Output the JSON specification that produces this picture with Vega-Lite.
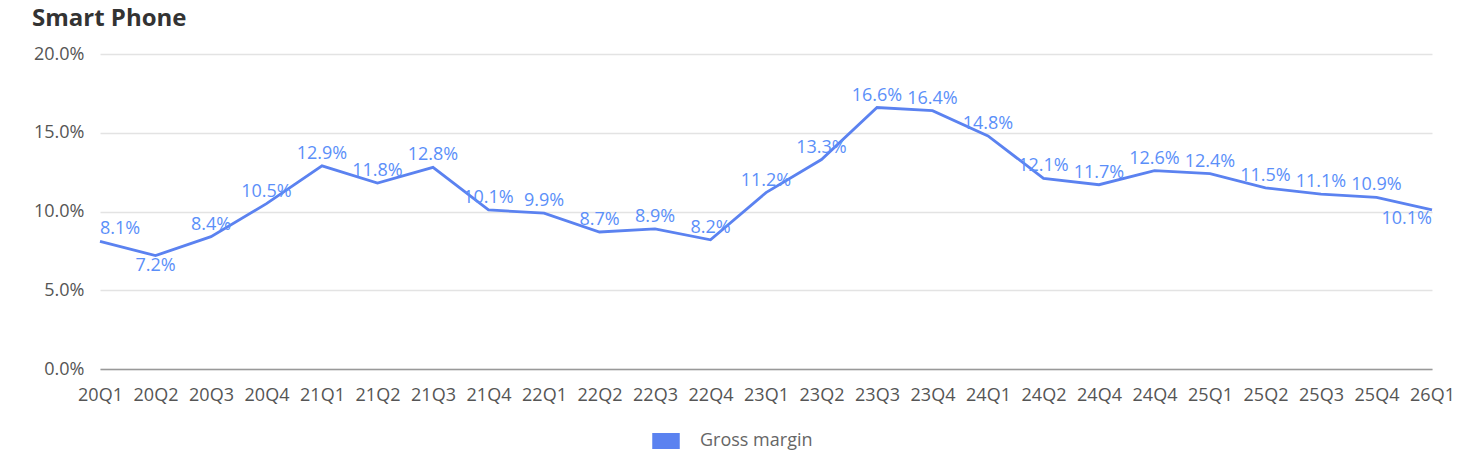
{
  "$schema": "https://vega.github.io/schema/vega-lite/v6.json",
  "width": 1332,
  "height": 315,
  "autosize": {"type": "none"},
  "padding": {"left": 100, "top": 54, "right": 31, "bottom": 96},
  "background": "#ffffff",
  "title": {"text": "Smart Phone", "anchor": "start", "frame": "group", "dx": -68, "fontSize": 24, "fontWeight": "bold", "color": "#333333", "font": "Open Sans", "baseline": "alphabetic", "offset": -5},
  "config": {"view": {"stroke": null}, "font": "Open Sans"},
  "data": {"values": [
    {"q": "20Q1", "v": 0.081},
    {"q": "20Q2", "v": 0.072},
    {"q": "20Q3", "v": 0.084},
    {"q": "20Q4", "v": 0.105},
    {"q": "21Q1", "v": 0.129},
    {"q": "21Q2", "v": 0.118},
    {"q": "21Q3", "v": 0.128},
    {"q": "21Q4", "v": 0.101},
    {"q": "22Q1", "v": 0.099},
    {"q": "22Q2", "v": 0.087},
    {"q": "22Q3", "v": 0.089},
    {"q": "22Q4", "v": 0.082},
    {"q": "23Q1", "v": 0.112},
    {"q": "23Q2", "v": 0.133},
    {"q": "23Q3", "v": 0.166},
    {"q": "23Q4", "v": 0.164},
    {"q": "24Q1", "v": 0.148},
    {"q": "24Q2", "v": 0.121},
    {"q": "24Q4", "v": 0.117},
    {"q": "24Q4 ", "v": 0.126},
    {"q": "25Q1", "v": 0.124},
    {"q": "25Q2", "v": 0.115},
    {"q": "25Q3", "v": 0.111},
    {"q": "25Q4", "v": 0.109},
    {"q": "26Q1", "v": 0.101}
  ]},
  "encoding": {
    "x": {"field": "q", "type": "ordinal", "sort": null, "scale": {"type": "point", "padding": 0},
      "axis": {"title": null, "labelAngle": 0, "labelFontSize": 18, "labelColor": "#555555", "labelPadding": 17, "ticks": false, "domainColor": "#999999", "domainWidth": 1.5, "grid": false, "labelFont": "Open Sans"}},
    "y": {"field": "v", "type": "quantitative", "scale": {"domain": [0, 0.2]},
      "axis": {"title": null, "values": [0, 0.05, 0.1, 0.15, 0.2], "format": ".1%", "labelFontSize": 18, "labelColor": "#555555", "labelPadding": 16, "ticks": false, "domain": false, "gridColor": "#e3e3e3", "gridWidth": 1.5, "labelFont": "Open Sans"}}
  },
  "layer": [
    {
      "mark": {"type": "line", "strokeWidth": 2.8},
      "encoding": {
        "color": {"datum": "Gross margin", "type": "nominal", "scale": {"range": ["#5b82f0"]},
          "legend": {"title": null, "orient": "none", "legendX": 552, "legendY": 373, "direction": "horizontal",
            "symbolType": "M-1,-0.55H1V0.55H-1Z", "symbolSize": 676, "labelFontSize": 18, "labelColor": "#666666", "labelOffset": 20, "labelFont": "Open Sans",
            "encode": {"symbols": {"update": {"fill": {"value": "#5b82f0"}, "stroke": {"value": "#dddddd"}, "strokeWidth": {"value": 1.5}}}}}}
      }
    },
    {
      "transform": [{"filter": {"not": {"field": "q", "oneOf": ["20Q1", "20Q2", "26Q1"]}}}],
      "mark": {"type": "text", "dy": -12, "fontSize": 18, "color": "#5b8ff9", "align": "center", "baseline": "middle"},
      "encoding": {"text": {"field": "v", "format": ".1%"}}
    },
    {
      "transform": [{"filter": {"field": "q", "equal": "20Q1"}}],
      "mark": {"type": "text", "dy": -12, "fontSize": 18, "color": "#5b8ff9", "align": "left", "baseline": "middle"},
      "encoding": {"text": {"field": "v", "format": ".1%"}}
    },
    {
      "transform": [{"filter": {"field": "q", "equal": "20Q2"}}],
      "mark": {"type": "text", "dy": 10, "fontSize": 18, "color": "#5b8ff9", "align": "center", "baseline": "middle"},
      "encoding": {"text": {"field": "v", "format": ".1%"}}
    },
    {
      "transform": [{"filter": {"field": "q", "equal": "26Q1"}}],
      "mark": {"type": "text", "dy": 9, "fontSize": 18, "color": "#5b8ff9", "align": "right", "baseline": "middle"},
      "encoding": {"text": {"field": "v", "format": ".1%"}}
    }
  ]
}
